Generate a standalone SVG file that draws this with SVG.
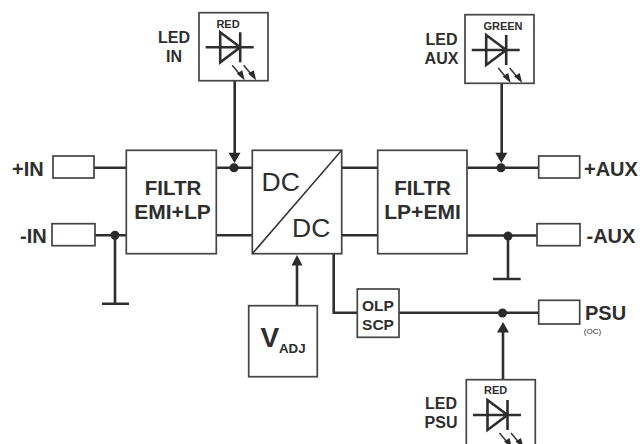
<svg xmlns="http://www.w3.org/2000/svg" width="640" height="444" viewBox="0 0 640 444">
<style>
text{font-family:"Liberation Sans",Arial,sans-serif;font-weight:bold;fill:#2e2e2e;text-anchor:middle}
.box{fill:#fff;stroke:#444;stroke-width:1.7}
.w{fill:none;stroke:#2e2e2e;stroke-width:2.6}
.t{fill:none;stroke:#333;stroke-width:1.5}
.dot{fill:#2b2b2b}
.head{fill:#2b2b2b}
.lbl{font-size:20px;text-anchor:start}
.led{font-size:16px}
.col{font-size:11px}
.dc{font-size:26.5px;font-weight:normal;text-anchor:start}
.oc{font-size:15.5px}
.f1{font-size:20.5px}
.f2{font-size:21px}
</style>
<defs>
<g id="diode">
<path class="w" d="M0 0H48M14.500 -15V15L34.500 0ZM34.500 -15V15"/>
<path class="t" d="M26.500 18L36.500 30M38 18L48 30"/>
<path class="head" d="M39 33L31 26.500L36.500 23ZM50.500 33L42.500 26.500L48 23Z"/>
</g>
</defs>
<g id="connectors">
<path class="w" d="M94 167.700H126.500M95 235.300H126.500M115 235.300V303.700M102 303.700H129"/>
<path class="w" d="M216.300 167.700H252.300M216.300 235.300H252.300M341.700 167.700H378M341.700 235.300H378"/>
<path class="w" d="M467 167.700H539M467 235.500H537M508 235.500V279M493 279H520.700"/>
<path class="w" d="M234.700 81V155M501.700 83V155M297 262V306M333.700 253.700V312.700H357.300M399 312.700H539M503 330V380"/>
<path class="head" d="M234.500 163L228.500 152.700H240.500ZM501.300 163L495.300 152.700H507.300ZM297 255L291.500 265.500H302.500ZM503 322L497 332.500H509Z"/>
<circle class="dot" cx="234" cy="167.700" r="4.500"/>
<circle class="dot" cx="501" cy="167.700" r="4.500"/>
<circle class="dot" cx="115" cy="235.300" r="4.500"/>
<circle class="dot" cx="508" cy="236" r="4.500"/>
<circle class="dot" cx="502.500" cy="313" r="4.500"/>
</g>
<g id="port-plus-in"><rect class="box" x="53" y="156" width="41" height="22"/><text class="lbl" x="12" y="175.500">+IN</text></g>
<g id="port-minus-in"><rect class="box" x="52" y="223.700" width="43" height="22"/><text class="lbl" x="20" y="242.700">-IN</text></g>
<g id="filter-in"><rect class="box" x="126.300" y="150.300" width="90" height="103.400"/><text class="f1" x="173" y="195">FILTR</text><text class="f2" x="172.500" y="219">EMI+LP</text></g>
<g id="dcdc"><rect class="box" x="252.300" y="150.300" width="89.400" height="103.400"/><path class="t" d="M252.300 253.700L341.700 150.300"/><text class="dc" x="261.500" y="191">DC</text><text class="dc" x="292" y="237">DC</text></g>
<g id="filter-aux"><rect class="box" x="377.700" y="150.300" width="89.300" height="103.400"/><text class="f1" x="422.500" y="195">FILTR</text><text class="f2" x="422.500" y="219">LP+EMI</text></g>
<g id="vadj"><rect class="box" x="248.700" y="305.700" width="68.600" height="71"/><text x="260.500" y="347" style="font-size:28px;text-anchor:start">V</text><text x="279" y="352.700" style="font-size:13.300px;text-anchor:start">ADJ</text></g>
<g id="olp-scp"><rect class="box" x="357.300" y="289" width="41.700" height="48.300"/><text class="oc" x="378" y="311">OLP</text><text class="oc" x="378" y="330">SCP</text></g>
<g id="port-plus-aux"><rect class="box" x="538.700" y="156" width="41" height="22"/><text class="lbl" x="584" y="175.500">+AUX</text></g>
<g id="port-minus-aux"><rect class="box" x="537" y="223.700" width="43" height="22"/><text class="lbl" x="586.500" y="243">-AUX</text></g>
<g id="port-psu"><rect class="box" x="538.700" y="300.300" width="41" height="23.700"/><text class="lbl" x="585" y="320">PSU</text><text x="592.500" y="334" style="font-size:8px;font-weight:normal">(OC)</text></g>
<g id="led-in"><rect class="box" x="199" y="12.700" width="69" height="68"/><use href="#diode" x="205.700" y="47.300"/><text class="col" x="228" y="28">RED</text><text class="led" x="174" y="43">LED</text><text class="led" x="174" y="62">IN</text></g>
<g id="led-aux"><rect class="box" x="465" y="14.700" width="69" height="68.600"/><use href="#diode" x="471.700" y="50"/><text class="col" x="503" y="30">GREEN</text><text class="led" x="441.500" y="45">LED</text><text class="led" x="441.500" y="64">AUX</text></g>
<g id="led-psu"><rect class="box" x="466.300" y="379.700" width="69" height="70"/><use href="#diode" x="473" y="415"/><text class="col" x="495.700" y="394">RED</text><text class="led" x="441" y="409">LED</text><text class="led" x="441" y="428">PSU</text></g>
</svg>
